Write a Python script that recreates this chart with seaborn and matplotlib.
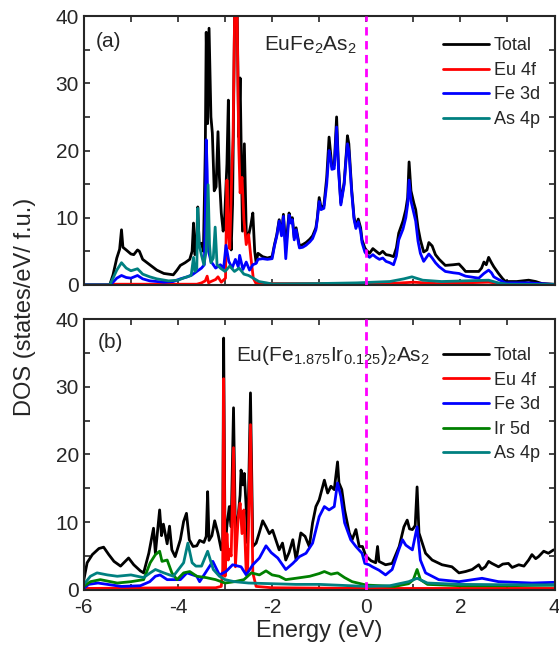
import numpy as np
import pandas as pd
import matplotlib
matplotlib.use("Agg")
import matplotlib.pyplot as plt
from matplotlib.ticker import MultipleLocator
import seaborn as sns

# ---- panel (a): EuFe2As2 ----
a_total_e = [-6.0, -5.45, -5.38, -5.3, -5.24, -5.2, -5.17, -5.1, -5.0, -4.94, -4.86, -4.82, -4.75, -4.6,
             -4.45, -4.3, -4.1, -4.02, -3.95, -3.85, -3.75, -3.7, -3.67, -3.64, -3.61, -3.58, -3.55, -3.5,
             -3.46, -3.42, -3.4, -3.37, -3.34, -3.3, -3.27, -3.23, -3.19, -3.15, -3.12, -3.08, -3.04, -3.01,
             -2.96, -2.93, -2.89, -2.87, -2.84, -2.79, -2.75, -2.71, -2.68, -2.63, -2.59, -2.55, -2.52, -2.45,
             -2.41, -2.37, -2.34, -2.3, -2.2, -2.1, -2.0, -1.95, -1.9, -1.85, -1.8, -1.76, -1.71, -1.64, -1.6,
             -1.57, -1.53, -1.49, -1.42, -1.35, -1.28, -1.2, -1.14, -1.07, -1.04, -1.0, -0.96, -0.9, -0.84,
             -0.79, -0.75, -0.73, -0.68, -0.63, -0.59, -0.54, -0.47, -0.42, -0.4, -0.37, -0.31, -0.26, -0.22,
             -0.17, -0.12, -0.09, -0.03, 0.0, 0.07, 0.14, 0.21, 0.28, 0.35, 0.42, 0.5, 0.58, 0.64, 0.69, 0.78,
             0.84, 0.88, 0.91, 0.95, 1.01, 1.05, 1.1, 1.15, 1.22, 1.29, 1.33, 1.4, 1.47, 1.55, 1.68, 1.85, 1.97,
             2.05, 2.11, 2.25, 2.39, 2.45, 2.5, 2.55, 2.6, 2.66, 2.71, 2.81, 2.9, 2.96, 3.2, 3.45, 3.6, 3.73, 4.0]
a_total = [0, 0, 1.5, 4.0, 5.3, 8.2, 5.6, 5.2, 4.6, 4.5, 5.2, 5.0, 3.8, 3.0,
           2.2, 1.7, 1.5, 2.2, 2.9, 3.3, 3.8, 5.0, 9.2, 4.5, 5.0, 11.6, 6.0, 6.2,
           5.0, 20, 37.6, 24, 38.2, 25, 22.6, 14, 14.6, 22.8, 16, 10.7, 8, 9.8,
           18, 27.5, 8, 5.2, 12, 45, 45, 22, 30.8, 8, 21, 8, 6.7, 9,
           10.7, 5, 3.3, 4.7, 4.2, 4.0, 4.2, 6, 7.5, 9.7, 7.6, 10.5, 5.5, 10.7, 9.5,
           10.0, 7, 8.5, 5.8, 6.0, 6.3, 6.8, 7.3, 8.5, 10, 13, 11.5, 11.8, 16,
           22, 19, 17.6, 17.8, 25, 17.6, 12.2, 15.2, 20, 22.2, 21, 14.2, 10.1, 8.7,
           9.8, 8.5, 6.7, 5.5, 5.2, 4.7, 5.4, 5.0, 4.6, 5.0, 4.5, 4.4, 4.2, 5.5, 7.7, 9.5,
           11.2, 13, 18.3, 14, 12.2, 11.2, 8.5, 6.7, 4.9, 5.2, 6.3, 5.8, 4.5, 3.8, 2.9, 3.0, 3.1,
           2.5, 2.0, 2.0, 2.0, 2.5, 3.4, 3.0, 4.1, 3.3, 2.7, 1.7, 0.9, 0.5, 0.5, 0.7, 0.5, 0.2, 0.1]

a_eu_e = [-6.0, -5.45, -5.4, -3.6, -3.5, -3.42, -3.38, -3.35, -3.3, -3.2, -3.15, -3.08, -3.02, -2.99,
          -2.96, -2.93, -2.9, -2.86, -2.83, -2.79, -2.75, -2.71, -2.68, -2.64, -2.6, -2.55, -2.5, -2.45,
          -2.4, -2.35, -2.0, 0.5, 1.0, 1.5, 2.6, 3.0, 4.0]
a_eu = [0, 0, 0.1, 0.1, 0.3, 0.6, 1.3, 0.3, 0.5, 0.8, 1.2, 0.4, 0.8, 1.0,
        15.6, 8, 5.4, 16, 22, 44, 44, 21, 13.7, 16, 9.8, 6, 7.5, 4,
        1.0, 0.3, 0.2, 0.2, 0.4, 0.2, 0.4, 0.1, 0.05]

a_fe_e = [-6.0, -5.45, -5.38, -5.3, -5.2, -5.1, -5.0, -4.86, -4.75, -4.6, -4.3, -4.1, -3.95, -3.8, -3.7,
          -3.6, -3.5, -3.44, -3.42, -3.4, -3.38, -3.35, -3.3, -3.2, -3.1, -3.03, -2.98, -2.92, -2.85,
          -2.78, -2.72, -2.69, -2.62, -2.55, -2.48, -2.41, -2.34, -2.3, -2.2, -2.1, -2.0, -1.95, -1.9,
          -1.85, -1.8, -1.76, -1.71, -1.64, -1.6, -1.57, -1.53, -1.49, -1.42, -1.35, -1.28, -1.2, -1.14,
          -1.07, -1.04, -1.0, -0.96, -0.9, -0.84, -0.79, -0.75, -0.73, -0.68, -0.63, -0.59, -0.54, -0.47,
          -0.42, -0.4, -0.37, -0.31, -0.26, -0.22, -0.17, -0.12, -0.09, -0.03, 0.0, 0.07, 0.14, 0.21,
          0.28, 0.35, 0.42, 0.5, 0.58, 0.64, 0.69, 0.78, 0.84, 0.88, 0.91, 0.95, 1.01, 1.05, 1.1, 1.15,
          1.22, 1.29, 1.33, 1.4, 1.47, 1.55, 1.68, 1.85, 1.97, 2.11, 2.39, 2.5, 2.6, 2.66, 2.71, 2.81,
          2.96, 3.45, 4.0]
a_fe = [0, 0, 0.4, 1.0, 1.4, 1.1, 1.0, 1.4, 0.9, 0.6, 0.4, 0.5, 0.9, 1.2, 1.5,
        2.0, 2.5, 3.0, 10, 21.6, 17, 5, 3.5, 2.5, 3, 2.5, 5.9, 3.5, 2.5,
        3.8, 2.7, 4.4, 2.3, 3.4, 2.2, 3.0, 3.2, 3.8, 3.9, 3.8, 3.9, 5.8, 7.3,
        9.5, 7.3, 10.2, 3.9, 10.4, 9.2, 9.7, 6.7, 8.2, 5.5, 5.6, 5.9, 6.4, 6.9,
        8.2, 9.7, 12.4, 11.2, 11.4, 15, 20, 18.5, 17.2, 17.3, 23.5, 17.2, 11.9, 14.9,
        19.5, 21, 20, 13.8, 9.8, 8.4, 9.4, 8.0, 6.3, 4.9, 4.6, 4.1, 4.5, 4.1,
        3.8, 4.0, 3.5, 3.3, 3.0, 4.3, 6.7, 8.3, 10, 12, 15.6, 12.5, 10.7, 9.5, 6.5, 4.7,
        3.5, 4.2, 4.6, 4.0, 3.3, 2.7, 2.0, 1.8, 1.7, 1.3, 1.0, 1.7, 2.2, 1.8, 1.2, 0.8,
        0.3, 0.3, 0.05]

a_as_e = [-6.0, -5.45, -5.38, -5.3, -5.2, -5.1, -5.0, -4.86, -4.75, -4.6, -4.45, -4.2, -4.0, -3.85,
          -3.72, -3.67, -3.64, -3.6, -3.58, -3.55, -3.5, -3.45, -3.4, -3.36, -3.33, -3.3, -3.25, -3.21,
          -3.17, -3.1, -3.0, -2.9, -2.8, -2.7, -2.6, -2.5, -2.4, -2.28, -2.0, -1.0, -0.2, 0.5, 0.8, 0.97,
          1.2, 1.6, 2.6, 2.8, 3.0, 4.0]
a_as = [0, 0, 1.0, 2.2, 3.3, 2.5, 2.1, 2.4, 1.6, 1.2, 0.9, 0.6, 0.7, 1.1,
        1.4, 4.1, 2.0, 2.5, 11.4, 6, 4.4, 3.0, 5, 14.9, 6, 3.3, 4, 8.6,
        3.0, 2.5, 2.0, 2.8, 2.0, 2.5, 1.6, 1.4, 1.0, 0.5, 0.15, 0.2, 0.3, 0.5, 0.9, 1.2,
        0.7, 0.5, 0.7, 0.3, 0.1, 0.05]

# ---- panel (b): Eu(Fe1.875Ir0.125)2As2 ----
b_total_e = [-6.0, -5.93, -5.82, -5.68, -5.58, -5.47, -5.36, -5.22, -5.15, -5.05, -4.94, -4.8, -4.73,
             -4.62, -4.52, -4.48, -4.39, -4.35, -4.31, -4.23, -4.18, -4.13, -4.06, -3.95, -3.88, -3.82,
             -3.76, -3.68, -3.6, -3.54, -3.45, -3.4, -3.37, -3.34, -3.28, -3.22, -3.15, -3.08, -3.05,
             -3.03, -3.0, -2.96, -2.91, -2.87, -2.82, -2.78, -2.72, -2.68, -2.66, -2.62, -2.59, -2.55,
             -2.52, -2.46, -2.41, -2.34, -2.27, -2.2, -2.13, -2.06, -1.99, -1.85, -1.78, -1.71, -1.64,
             -1.56, -1.49, -1.39, -1.3, -1.21, -1.14, -1.07, -1.0, -0.89, -0.82, -0.75, -0.68, -0.61,
             -0.58, -0.52, -0.46, -0.36, -0.3, -0.22, -0.15, -0.08, -0.01, 0.1, 0.2, 0.24, 0.27, 0.41,
             0.55, 0.7, 0.8, 0.87, 0.92, 0.98, 1.04, 1.08, 1.12, 1.26, 1.4, 1.61, 1.82, 1.97, 2.11, 2.25,
             2.39, 2.45, 2.53, 2.6, 2.67, 2.81, 2.9, 3.02, 3.1, 3.24, 3.35, 3.45, 3.52, 3.6, 3.66, 3.77,
             3.87, 3.98]
b_total = [1.5, 4.0, 5.2, 6.1, 6.3, 5.2, 4.2, 3.5, 4.0, 4.7, 3.7, 2.8, 2.5,
           5.4, 9.1, 5.4, 11.8, 8.0, 9.7, 6.8, 9.4, 5.9, 4.9, 7.4, 10.1, 11.3,
           7.4, 6.4, 6.5, 7.3, 7.0, 7.9, 14.5, 7.3, 8, 10.2, 8.3, 5.9, 7,
           37.2, 6, 9.5, 12.3, 9.3, 26.9, 8.3, 11, 14, 17.7, 15.5, 17.2, 12,
           6.9, 29.1, 6.4, 6.9, 8.5, 10.2, 9.3, 8.3, 8.8, 5.9, 6.9, 4.4, 5.5,
           7.4, 4.4, 8.4, 7.9, 6.4, 9.9, 12.3, 13.3, 16.2, 14.3, 15.3, 14.8, 18.9,
           15.8, 14.8, 11.8, 8.4, 7.4, 8.9, 6.4, 6.4, 5.0, 4.3, 4.0, 6.4, 4.2, 3.7,
           3.9, 6.4, 9.3, 10.3, 9.0, 8.9, 9.5, 15.2, 8.4, 5.4, 4.4, 3.7, 3.4, 2.5, 2.7, 3.0,
           3.7, 3.0, 3.4, 4.2, 3.9, 3.4, 3.8, 3.9, 3.3, 3.7, 3.5, 4.4, 5.2, 4.6, 4.9, 5.7,
           5.4, 5.9]

b_eu_e = [-6.0, -4.0, -3.2, -3.08, -3.05, -3.03, -3.0, -2.96, -2.93, -2.91, -2.87, -2.82, -2.78,
          -2.72, -2.68, -2.64, -2.6, -2.55, -2.52, -2.46, -2.41, -2.34, -2.0, 0.0, 4.0]
b_eu = [0.2, 0.3, 0.3, 0.5, 3, 31.2, 2.0, 8.3, 4.4, 6, 5, 21, 3.4,
        10.8, 12.8, 8.3, 11.8, 2.5, 3, 24.4, 2.5, 0.5, 0.3, 0.2, 0.2]

b_fe_e = [-6.0, -5.9, -5.7, -5.4, -5.2, -4.8, -4.6, -4.48, -4.38, -4.23, -3.95, -3.81, -3.6, -3.54,
          -3.4, -3.26, -3.12, -2.98, -2.84, -2.66, -2.55, -2.41, -2.27, -2.13, -2.02, -1.88, -1.71,
          -1.56, -1.42, -1.28, -1.14, -1.0, -0.89, -0.79, -0.68, -0.61, -0.54, -0.46, -0.33, -0.22,
          -0.09, -0.03, 0.06, 0.13, 0.27, 0.41, 0.55, 0.69, 0.77, 0.84, 0.98, 1.08, 1.15, 1.26, 1.54,
          1.97, 2.46, 2.81, 3.52, 3.98]
b_fe = [0.2, 0.8, 1.0, 0.7, 0.5, 0.6, 1.2, 2.0, 2.2, 1.5, 1.5, 2.5, 2.0, 1.2,
        2.7, 4.2, 2.2, 2.7, 3.7, 3.4, 2.2, 3.7, 4.7, 6.5, 5.5, 4.7, 3.0,
        3.9, 4.9, 5.4, 6.9, 10.8, 12.3, 11.8, 12.3, 15.8, 13.8, 9.9, 7.4, 6.4,
        5.4, 3.9, 3.7, 3.4, 2.9, 2.2, 3.0, 5.9, 7.4, 6.6, 5.9, 9.3, 4.4, 2.5, 1.5,
        1.2, 1.7, 1.2, 1.0, 1.1]

b_ir_e = [-6.0, -5.86, -5.65, -5.29, -5.0, -4.73, -4.59, -4.48, -4.39, -4.34, -4.23, -4.13, -4.02,
          -3.88, -3.75, -3.6, -3.4, -3.2, -3.0, -2.8, -2.6, -2.44, -2.27, -2.13, -2.0, -1.85, -1.71,
          -1.5, -1.2, -1.0, -0.89, -0.75, -0.61, -0.46, -0.3, 0.0, 0.3, 0.6, 0.9, 1.0, 1.08, 1.15, 1.3,
          2.0, 3.0, 4.0]
b_ir = [0.5, 1.2, 1.5, 1.0, 1.2, 1.5, 4.0, 5.2, 5.7, 4.2, 4.4, 2.5, 1.5,
        2.5, 2.7, 2.0, 1.8, 1.5, 1.0, 1.2, 1.5, 2.5, 2.2, 2.8, 2.2, 2.0, 1.5,
        1.7, 2.0, 2.4, 2.7, 2.3, 2.5, 1.8, 1.2, 0.7, 0.6, 0.5, 0.9, 1.5, 3.0, 1.5, 0.8,
        0.6, 0.6, 0.7]

b_as_e = [-6.0, -5.86, -5.72, -5.5, -5.29, -5.0, -4.73, -4.59, -4.48, -4.3, -4.1, -3.88, -3.79, -3.7,
          -3.62, -3.5, -3.37, -3.25, -3.12, -3.0, -2.8, -2.5, -2.0, -1.5, -1.0, 0.0, 0.5, 0.9, 1.08,
          1.3, 2.0, 4.0]
b_as = [0.8, 2.0, 2.5, 2.2, 2.0, 2.2, 1.8, 2.5, 3.0, 2.5, 2.0, 4.0, 6.9, 4.0,
        3.5, 3.5, 5.7, 3.0, 2.0, 1.5, 1.2, 1.0, 0.9, 0.8, 0.8, 0.5, 0.6, 1.2, 1.7,
        1.0, 0.8, 0.7]

colors = {"Total": "black", "Eu 4f": "#ff0000", "Fe 3d": "#0000ff",
          "Ir 5d": "#008000", "As 4p": "#008080"}

sns.set_style("ticks")
plt.rcParams["font.family"] = ["Liberation Sans", "DejaVu Sans"]
plt.rcParams["mathtext.fontset"] = "custom"
plt.rcParams["mathtext.rm"] = "Liberation Sans"
plt.rcParams["mathtext.it"] = "Liberation Sans:italic"
plt.rcParams["axes.unicode_minus"] = False

fig = plt.figure(figsize=(5.59, 6.46), dpi=100)
ax_a = fig.add_axes([0.150, 0.559, 0.842, 0.416])
ax_b = fig.add_axes([0.150, 0.087, 0.842, 0.419])

panels = [
    (ax_a, 0.975, [("Total", a_total_e, a_total), ("Eu 4f", a_eu_e, a_eu),
                   ("Fe 3d", a_fe_e, a_fe), ("As 4p", a_as_e, a_as)]),
    (ax_b, 0.95, [("Total", b_total_e, b_total), ("Eu 4f", b_eu_e, b_eu),
                  ("Fe 3d", b_fe_e, b_fe), ("Ir 5d", b_ir_e, b_ir), ("As 4p", b_as_e, b_as)]),
]

for ax, leg_top, curves in panels:
    for name, e, d in curves:
        sns.lineplot(x=e, y=d, color=colors[name], lw=2.0, label=name, ax=ax, sort=False)
    ax.axvline(0, color="#ff00ff", ls=(0, (3, 2)), lw=2.0, zorder=5)
    ax.set_xlim(-6, 4)
    ax.set_ylim(0, 40)
    ax.xaxis.set_major_locator(MultipleLocator(2))
    ax.xaxis.set_minor_locator(MultipleLocator(1))
    ax.yaxis.set_major_locator(MultipleLocator(10))
    ax.yaxis.set_minor_locator(MultipleLocator(5))
    ax.tick_params(which="both", direction="in", top=True, right=True,
                   length=4, width=1.2, labelsize=15)
    ax.tick_params(axis="x", pad=6)
    for sp in ax.spines.values():
        sp.set_linewidth(1.5)
    ax.set_xlabel("")
    ax.set_ylabel("")
    ax.legend(loc="upper right", bbox_to_anchor=(1.0, leg_top), frameon=False, fontsize=13,
              handlelength=2.6, handletextpad=0.25, labelspacing=0.42, borderaxespad=0.4)

ax_a.tick_params(labelbottom=False)
ax_a.text(0.025, 0.905, "(a)", transform=ax_a.transAxes, fontsize=15, va="center")
ax_a.text(0.383, 0.89, "EuFe$_2$As$_2$", transform=ax_a.transAxes, fontsize=15, va="center")
ax_b.text(0.03, 0.915, "(b)", transform=ax_b.transAxes, fontsize=15, va="center")
ax_b.text(0.324, 0.867, "Eu(Fe$_{1.875}$Ir$_{0.125}$)$_2$As$_2$", transform=ax_b.transAxes,
          fontsize=15, va="center")
ax_b.set_xlabel("Energy (eV)", fontsize=17, labelpad=2)
fig.text(0.045, 0.525, "DOS (states/eV/ f.u.)", rotation=90, fontsize=17, va="center", ha="center")

fig.savefig("out.png", dpi=100)
